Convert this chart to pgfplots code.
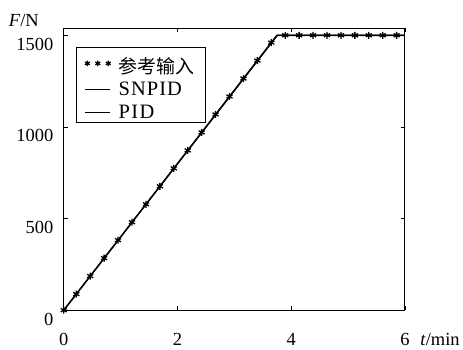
\documentclass[border=0pt]{standalone}
\usepackage{fontspec}
\setmainfont{Liberation Serif}
\newfontfamily\cjk{Noto Sans CJK SC}
\usepackage{pgfplots}
\pgfplotsset{compat=1.18}
\begin{document}
\begin{tikzpicture}
\begin{axis}[
  scale only axis, width=342pt, height=283pt,
  xmin=0, xmax=6, ymin=0, ymax=1540,
  xtick={0,2,4,6}, ytick={0,500,1000,1500},
  tick align=inside, major tick length=4pt,
  tick style={black, line width=0.6pt},
  axis line style={line width=0.8pt},
  font=\fontsize{18.5}{20}\selectfont,
  /pgf/number format/assume math mode=true,
  scaled y ticks=false,
  yticklabel style={/pgf/number format/1000 sep={}, yshift=-9pt, xshift=-7pt},
  xticklabel style={yshift=-20pt},
  clip=false,
  legend style={at={(0.036,0.933)}, anchor=north west, draw=black, line width=0.7pt,
    inner xsep=8.5pt, inner ysep=1pt, font=\fontsize{20.5}{21}\selectfont,
    row sep=3.5pt,
    nodes={inner ysep=2pt, inner xsep=2pt},
    /tikz/every odd column/.append style={column sep=6pt}},
  legend cell align=left,
]
\addplot[only marks, mark=asterisk, mark size=3.5pt, mark options={line width=1.3pt},
  legend image code/.code={\draw[black, only marks, mark=asterisk, mark size=2.8pt, line width=1pt] plot coordinates {(2pt,-1pt) (12.5pt,-1pt) (23pt,-1pt)};}]
  coordinates {
  (0,0) (0.22,88) (0.465,186) (0.71,284) (0.955,382) (1.2,480) (1.445,578) (1.69,676)
  (1.935,774) (2.18,872) (2.425,970) (2.67,1068) (2.915,1166) (3.16,1264) (3.405,1362)
  (3.65,1460) (3.895,1500) (4.14,1500) (4.385,1500) (4.63,1500) (4.875,1500) (5.12,1500)
  (5.365,1500) (5.61,1500) (5.855,1500)};
\addlegendentry{\rule{0pt}{23pt}\fontsize{19}{20}\selectfont\cjk 参考输入}
\addplot[black, line width=1.5pt,
  legend image code/.code={\draw[black, line width=0.9pt] (0pt,0pt) -- (25pt,0pt);}]
  coordinates {(0,0) (3.75,1500) (6,1500)};
\addlegendentry{\addfontfeature{LetterSpace=5}SNPID}
\addplot[black, line width=1.1pt,
  legend image code/.code={\draw[black, line width=0.9pt] (0pt,0pt) -- (25pt,0pt);}]
  coordinates {(0,0) (3.76,1500) (6,1500)};
\addlegendentry{\addfontfeature{LetterSpace=7}PID}
\node at (rel axis cs:-0.117,1.028) {\textit{F}/N};
\node[anchor=west] at (rel axis cs:1.035,-0.102) {\textit{t}/min};
\path (rel axis cs:-0.187,-0.131) rectangle (rel axis cs:1.167,1.099);
\end{axis}
\end{tikzpicture}
\end{document}
